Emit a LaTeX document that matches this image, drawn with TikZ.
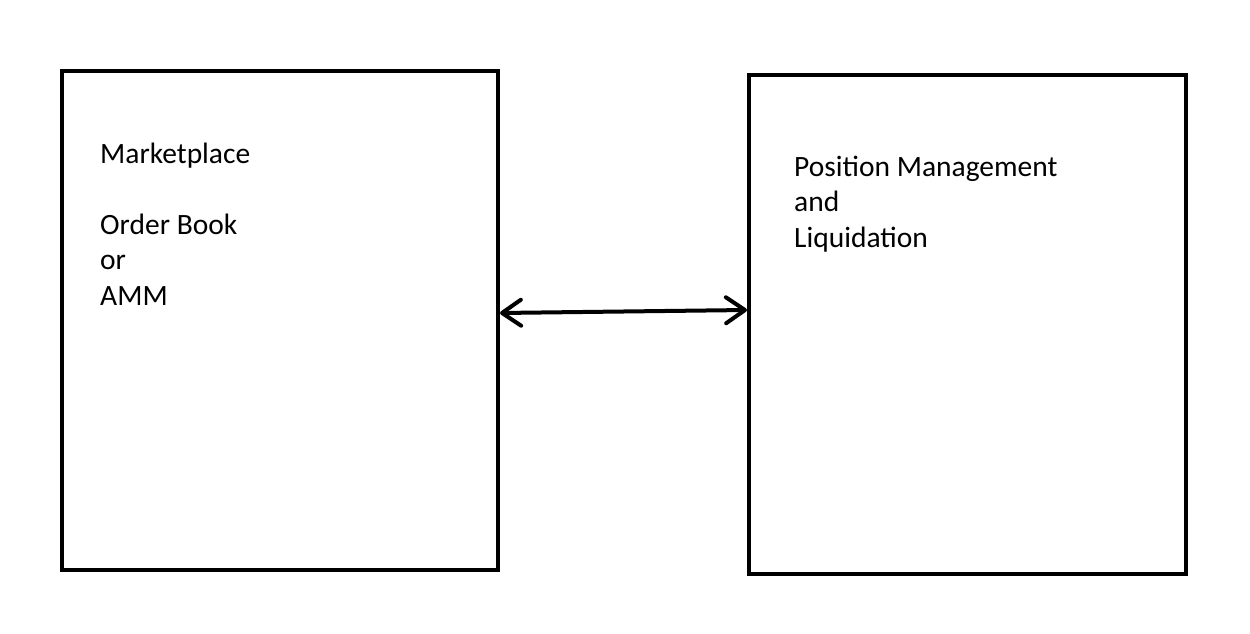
\documentclass[tikz,border=0pt]{standalone}
\usepackage{fontspec}
\setmainfont{Carlito}
\usetikzlibrary{arrows.meta}
\begin{document}
\begin{tikzpicture}[x=1pt,y=-1pt,
  box/.style={draw=black,line width=4pt,rectangle,inner sep=0pt},
  label/.style={anchor=base west,align=left,inner sep=0pt,font=\fontsize{29.5pt}{35.5pt}\selectfont},
  conn/.style={line width=4pt,line cap=round,{Straight Barb[length=19pt,width=26pt,line width=4pt,round]}-{Straight Barb[length=19pt,width=26pt,line width=4pt,round]}}]
\useasboundingbox[fill=white] (0,0) rectangle (1250,634);
\node[box,minimum width=436pt,minimum height=499pt] (L) at (280,320.5) {};
\node[box,minimum width=437pt,minimum height=499pt] (R) at (967.5,324.5) {};
\node[label] (lt) at (100,305) {Marketplace\\[35.5pt]Order Book\\or\\AMM};
\node[label] (rt) at (794,247) {Position Management\\and\\Liquidation};
\draw[conn] ([yshift=7.5pt]L.east) -- ([yshift=14.5pt]R.west);
\end{tikzpicture}
\end{document}
